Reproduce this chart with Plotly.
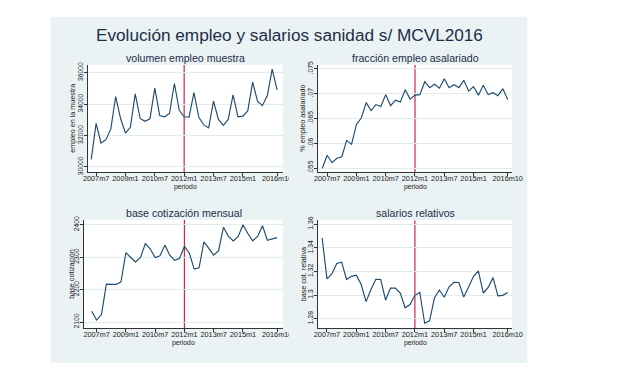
import plotly.graph_objects as go

# ---------------- data (quarterly) ----------------
periods = [
    "2007m4", "2007m7", "2007m10",
    "2008m1", "2008m4", "2008m7", "2008m10",
    "2009m1", "2009m4", "2009m7", "2009m10",
    "2010m1", "2010m4", "2010m7", "2010m10",
    "2011m1", "2011m4", "2011m7", "2011m10",
    "2012m1", "2012m4", "2012m7", "2012m10",
    "2013m1", "2013m4", "2013m7", "2013m10",
    "2014m1", "2014m4", "2014m7", "2014m10",
    "2015m1", "2015m4", "2015m7", "2015m10",
    "2016m1", "2016m4", "2016m7", "2016m10",
]

empleo_muestra = [30480, 32770, 31520, 31730, 32400, 34480, 33080, 32150, 32520, 34650,
                  33080, 32900, 33060, 35020, 33270, 33190, 33400, 35310, 33600, 33190,
                  33170, 34730, 33150, 32670, 32480, 34190, 33020, 32650, 33020, 34580,
                  33190, 33230, 33560, 35400, 34190, 33900, 34540, 36230, 34900]

fraccion_asalariado = [.0550, .0576, .0561, .0570, .0573, .0606, .0598, .0638, .0651, .0682,
                       .0666, .0678, .0674, .0698, .0676, .0687, .0683, .0708, .0689, .0697,
                       .0698, .0724, .0712, .0719, .0711, .0730, .0712, .0718, .0712, .0727,
                       .0705, .0714, .0697, .0717, .0698, .0702, .0696, .0710, .0688]

base_cotizacion = [2133, 2106, 2123, 2217, 2216, 2216, 2224, 2314, 2299, 2285,
                   2299, 2342, 2325, 2299, 2304, 2337, 2306, 2290, 2296, 2333,
                   2312, 2263, 2267, 2347, 2327, 2306, 2320, 2392, 2365, 2350,
                   2363, 2400, 2373, 2350, 2364, 2397, 2352, 2357, 2360]

salarios_relativos = [1.3483, 1.3136, 1.3178, 1.3267, 1.3278, 1.3131, 1.3158, 1.3167, 1.3089, 1.2944,
                      1.3047, 1.3133, 1.3131, 1.2956, 1.3058, 1.3058, 1.3017, 1.2892, 1.2919, 1.2997,
                      1.3022, 1.2761, 1.2781, 1.2975, 1.3042, 1.2981, 1.3069, 1.3108, 1.3106, 1.2983,
                      1.3067, 1.3158, 1.3203, 1.3017, 1.3064, 1.3147, 1.2992, 1.2997, 1.3022]

x_tick_labels = ["2007m7", "2009m1", "2010m7", "2012m1", "2013m7", "2015m1", "2016m10"]
reform_period = "2012m1"

y1_ticks = [30000, 32000, 34000, 36000]
y1_labels = ["30000", "32000", "34000", "36000"]
y2_ticks = [.055, .06, .065, .07, .075]
y2_labels = [".055", ".06", ".065", ".07", ".075"]
y3_ticks = [2100, 2200, 2300, 2400]
y3_labels = ["2100", "2200", "2300", "2400"]
y4_ticks = [1.28, 1.30, 1.32, 1.34, 1.36]
y4_labels = ["1.28", "1.3", "1.32", "1.34", "1.36"]

titulo = "Evolución empleo y salarios sanidad s/ MCVL2016"


def month_index(p):
    y, m = p.split("m")
    return (int(y) - 2007) * 12 + int(m) - 1


xs = [month_index(p) for p in periods]
x_tickvals = [month_index(p) for p in x_tick_labels]
x_reform = month_index(reform_period)

# ---------------- styling ----------------
W, H = 620, 368
BG = "#eaf2f3"
LINE = "#1f4a6e"
RED = "#d0254b"
AXC = "#333333"
TXT = "#1a1a1a"
TITLE_C = "#1c2d48"
FONT = "Liberation Sans, Arial, Helvetica, sans-serif"


def px(x):
    return x / W


def py(y):
    return 1 - y / H


panels = [
    dict(y=empleo_muestra, title="volumen empleo muestra", ytitle="empleo en la muestra",
         yt=y1_ticks, yl=y1_labels, yr=[29644, 36500], xr=[1.2, 120.4],
         box=(85.5, 285.0, 62.0, 171.7), ytx=69.0),
    dict(y=fraccion_asalariado, title="fracción empleo asalariado", ytitle="% empleo asalariado",
         yt=y2_ticks, yl=y2_labels, yr=[.05415, .0758], xr=[0.5, 119.8],
         box=(321.5, 520.7, 62.0, 171.7), ytx=306.0),
    dict(y=base_cotizacion, title="base cotización mensual", ytitle="base cotización",
         yt=y3_ticks, yl=y3_labels, yr=[2081, 2415], xr=[-1.5, 120.4],
         box=(81.5, 285.0, 220.0, 330.5), ytx=67.5),
    dict(y=salarios_relativos, title="salarios relativos", ytitle="base cot. relativa",
         yt=y4_ticks, yl=y4_labels, yr=[1.2719, 1.3632], xr=[0.6, 119.8],
         box=(321.5, 520.7, 220.5, 330.5), ytx=306.0),
]

fig = go.Figure()
layout = dict(
    width=W, height=H,
    margin=dict(l=0, r=0, t=0, b=0),
    paper_bgcolor="white", plot_bgcolor="white",
    showlegend=False,
    font=dict(family=FONT, color=TXT),
)

shapes = [dict(type="rect", xref="paper", yref="paper",
               x0=px(47), x1=px(536), y0=py(366), y1=py(13),
               fillcolor=BG, line=dict(width=0), layer="below")]
annotations = [dict(text=titulo, xref="paper", yref="paper", x=px(292), y=py(31.5),
                    xanchor="center", yanchor="middle", showarrow=False,
                    font=dict(size=17.2, color=TITLE_C, family=FONT))]

for i, p in enumerate(panels, start=1):
    sfx = "" if i == 1 else str(i)
    xa, ya = "x" + sfx, "y" + sfx
    x0, x1, yt, yb = p["box"]
    fig.add_trace(go.Scatter(x=xs, y=p["y"], mode="lines", xaxis=xa, yaxis=ya,
                             line=dict(color=LINE, width=1.15), hoverinfo="skip"))
    layout["xaxis" + sfx] = dict(
        domain=[px(x0), px(x1)], anchor=ya, range=p["xr"],
        tickvals=x_tickvals, ticktext=x_tick_labels,
        ticks="outside", ticklen=3, tickwidth=0.8, tickcolor=AXC,
        ticklabelstandoff=-4,
        showline=True, linecolor=AXC, linewidth=0.8, mirror=False,
        showgrid=False, zeroline=False, tickangle=0,
        tickfont=dict(size=7.3, color=TXT, family=FONT), fixedrange=True)
    layout["yaxis" + sfx] = dict(
        domain=[py(yb), py(yt)], anchor=xa, range=p["yr"],
        tickvals=p["yt"], ticktext=p["yl"], tickangle=-90,
        ticks="outside", ticklen=3, tickwidth=0.8, tickcolor=AXC,
        ticklabelstandoff=-1,
        showline=True, linecolor=AXC, linewidth=0.8,
        showgrid=True, gridcolor="#e3eced", gridwidth=1, zeroline=False,
        tickfont=dict(size=6.8, color=TXT, family=FONT), fixedrange=True)
    # white plot region
    shapes.append(dict(type="rect", xref=xa + " domain", yref=ya + " domain",
                       x0=0, x1=1, y0=0, y1=1, fillcolor="white",
                       line=dict(width=0), layer="below"))
    # vertical reference line
    shapes.append(dict(type="line", xref=xa, yref=ya, x0=x_reform, x1=x_reform,
                       y0=p["yr"][0], y1=p["yr"][1],
                       line=dict(color=RED, width=1.2), layer="below"))
    xc = (x0 + x1) / 2
    annotations.append(dict(text=p["title"], xref="paper", yref="paper",
                            x=px(xc), y=py(yt - 7), xanchor="center", yanchor="middle",
                            showarrow=False, font=dict(size=10.6, color=TITLE_C, family=FONT)))
    annotations.append(dict(text="periodo", xref="paper", yref="paper",
                            x=px(xc), y=py(yb + 15.2), xanchor="center", yanchor="middle",
                            showarrow=False, font=dict(size=6.8, color=TXT, family=FONT)))
    annotations.append(dict(text=p["ytitle"], xref="paper", yref="paper",
                            x=px(p["ytx"]), y=py((yt + yb) / 2), xanchor="center",
                            yanchor="middle", textangle=-90, showarrow=False,
                            font=dict(size=7.2, color=TXT, family=FONT)))

# the left sub-graphs clip their last tick label at the sub-graph edge
for ytop in (173.0, 331.5):
    shapes.append(dict(type="rect", xref="paper", yref="paper",
                       x0=px(291.5), x1=px(303), y0=py(ytop + 10), y1=py(ytop),
                       fillcolor=BG, line=dict(width=0), layer="above"))

layout["shapes"] = shapes
layout["annotations"] = annotations
fig.update_layout(**layout)
fig.write_html(
    "out.html",
    config={"displayModeBar": False},
    post_script="document.body.style.margin='0';document.body.style.overflow='hidden';",
)
